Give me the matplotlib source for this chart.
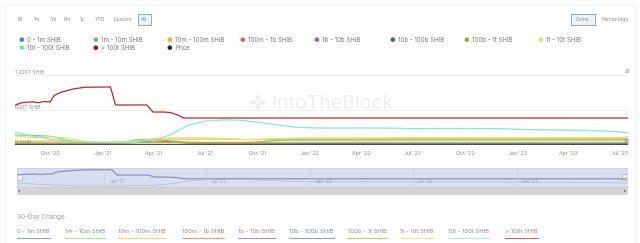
import pandas as pd
import matplotlib.pyplot as plt
import matplotlib.dates as mdates
from matplotlib.patches import Rectangle

plt.rcParams['font.family'] = ['Inter', 'DejaVu Sans']

# =============================================
# DATOS (T SHIB, mensual)
# =============================================
fechas = list(pd.date_range("2020-08-01", "2023-07-01", freq="MS")) + [pd.Timestamp("2023-07-15")]

# > 100t tiene escalones, se leen con fechas propias
fechas_100t = pd.to_datetime(["2020-08-01", "2020-08-10", "2020-08-20", "2020-09-01", "2020-09-10",
                              "2020-09-20", "2020-10-01", "2020-10-08", "2020-10-20", "2020-11-10",
                              "2020-12-01", "2021-01-15", "2021-01-24", "2021-03-20", "2021-03-31",
                              "2021-04-20", "2021-05-01", "2021-05-12", "2021-05-24", "2022-01-01",
                              "2022-07-01", "2023-01-01", "2023-07-15"])
mas_100t = [686, 720, 735, 740, 725, 745, 740, 850, 905, 960,
            990, 995, 686, 686, 565, 565, 555, 520, 463, 463,
            463, 463, 462]
t10_100t = [220, 150, 100, 60, 50, 50, 55, 70, 75, 180, 340, 410,
            430, 425, 390, 350, 310, 295, 290, 290, 292, 290, 288, 280,
            282, 285, 283, 282, 280, 270, 262, 258, 255, 250, 240, 225, 205]
t1_10t = [150, 130, 140, 120, 60, 45, 45, 50, 115, 120, 125, 125,
          115, 95, 90, 110, 120, 122, 122, 123, 123, 122, 125, 128,
          126, 125, 125, 124, 124, 125, 125, 126, 126, 127, 128, 130, 140]
m1_10m = [170, 165, 150, 80, 40, 30, 30, 90, 100, 70, 50, 45,
          45, 44, 44, 45, 45, 45, 45, 45, 45, 45, 45, 45,
          45, 45, 45, 45, 45, 45, 45, 45, 45, 45, 45, 45, 45]
m10_100m = [60, 60, 70, 60, 50, 40, 40, 60, 90, 100, 100, 100,
            100, 95, 95, 100, 105, 105, 105, 105, 105, 106, 108, 110,
            108, 108, 108, 107, 107, 107, 108, 108, 108, 109, 110, 110, 112]
b100_1t = [35, 35, 35, 35, 35, 35, 35, 40, 40, 40, 40, 40,
           40, 40, 50, 80, 85, 85, 85, 85, 85, 85, 85, 86,
           86, 86, 86, 86, 86, 86, 86, 86, 86, 86, 86, 86, 86]
m100_1b = [25, 25, 25, 25, 25, 25, 30, 40, 70, 55, 30, 25,
           25, 25, 22, 22, 22, 22, 22, 22, 22, 22, 22, 22,
           22, 22, 22, 22, 22, 22, 22, 22, 22, 22, 22, 22, 22]
b10_100b = [15] * 37
b1_10b = [5, 5, 5, 5, 5, 5, 5, 6, 6, 6, 6, 6,
          6, 6, 8, 14, 18, 20, 20, 20, 20, 20, 20, 20,
          20, 20, 20, 20, 20, 20, 20, 20, 20, 20, 20, 20, 20]
m0_1m = [2] * 37
precio = [0.0, 0.0, 0.0, 0.0, 0.0, 0.0, 0.0, 0.0, 0.00001, 0.00002, 0.000007, 0.000007,
          0.000008, 0.000008, 0.00006, 0.00004, 0.00003, 0.00003, 0.00003, 0.000025, 0.00002, 0.000012, 0.00001, 0.000012,
          0.000012, 0.000011, 0.00001, 0.000009, 0.000008, 0.000011, 0.000012, 0.000011, 0.00001, 0.000009, 0.000008, 0.000007, 0.000007]

etiquetas = ["0 - 1m SHIB", "1m - 10m SHIB", "10m - 100m SHIB", "100m - 1b SHIB",
             "1b - 10b SHIB", "10b - 100b SHIB", "100b - 1t SHIB", "1t - 10t SHIB",
             "10t - 100t SHIB", "> 100t SHIB", "Price"]
colores = ["#4a80c8", "#72b95a", "#f0b43c", "#e2674b", "#9b62c4", "#4d6075",
           "#9aa83a", "#f6d55c", "#7fe0c8", "#8b1c24", "#2b2b2b"]
series = [m0_1m, m1_10m, m10_100m, m100_1b, b1_10b, b10_100b, b100_1t,
          t1_10t, t10_100t]
colores_linea = ["#5a7fb0", "#8ccf7a", "#f2c14e", "#c9774a", "#8a6aa8", "#6b7a8c",
                 "#a8b04a", "#e8e070", "#8ee0e0", "#b02a2a"]


def fx(x):
    return x / 640


def fy(y):
    return 1 - y / 243


fig = plt.figure(figsize=(6.4, 2.43), dpi=100)
fig.patch.set_facecolor("white")

# =============================================
# BOTONES SUPERIORES
# =============================================
gris = "#8a8a8a"
for txt, x in zip(["7d", "1m", "3m", "6m", "1y", "YTD", "Custom", "All"],
                  [20, 37, 53, 67, 82, 100, 123, 144]):
    fig.text(fx(x), fy(19.5), txt, fontsize=3.6, color=gris, ha="center", va="center")
fig.patches.append(Rectangle((fx(138), fy(25)), fx(13), 11 / 243, transform=fig.transFigure,
                             fill=True, facecolor="#eef2fb", edgecolor="#7d9bd6", lw=0.6))
fig.patches.append(Rectangle((fx(571), fy(25)), fx(24), 11 / 243, transform=fig.transFigure,
                             fill=True, facecolor="#eef2fb", edgecolor="#7d9bd6", lw=0.6))
fig.text(fx(583), fy(19.5), "Coins", fontsize=3.6, color=gris, ha="center", va="center")
fig.text(fx(615), fy(19.5), "Percentage", fontsize=3.6, color=gris, ha="center", va="center")

# =============================================
# LEYENDA
# =============================================
pos_leyenda = [(21, 40), (95, 40), (169, 40), (242, 40), (316, 40), (392, 40),
               (466, 40), (540, 40), (21, 48), (95, 48), (169, 48)]
for (x, y), lab, col in zip(pos_leyenda, etiquetas, colores):
    fig.text(fx(x), fy(y), "\u25cf", fontsize=4.5, color=col, ha="center", va="center")
    fig.text(fx(x + 6), fy(y), lab, fontsize=4.4, color="#777777", ha="left", va="center")

# =============================================
# GRÁFICO PRINCIPAL
# =============================================
ax = fig.add_axes([fx(15), fy(145), fx(613), 70 / 243])
for s, c in zip(series, colores_linea):
    ax.plot(fechas, s, color=c, lw=0.9)
ax.plot(fechas_100t, mas_100t, color=colores_linea[9], lw=0.9)
ax.set_ylim(0, 1200)
ax.set_xlim(pd.Timestamp("2020-07-31"), pd.Timestamp("2023-07-15"))
for v in [0, 600, 1200]:
    ax.axhline(v, color="#ececec", lw=0.6, zorder=0)
for sp in ax.spines.values():
    sp.set_visible(False)
ax.set_yticks([])
ax.set_xticks([pd.Timestamp(d) for d in ["2020-10-01", "2021-01-01", "2021-04-01", "2021-07-01",
                                          "2021-10-01", "2022-01-01", "2022-04-01", "2022-07-01",
                                          "2022-10-01", "2023-01-01", "2023-04-01", "2023-07-01"]])
ax.set_xticklabels(["Oct '20", "Jan '21", "Apr '21", "Jul '21", "Oct '21", "Jan '22",
                    "Apr '22", "Jul '22", "Oct '22", "Jan '23", "Apr '23", "Jul '23"])
ax.tick_params(axis="x", length=0, labelsize=3.8, labelcolor=gris, pad=4)
ax.text(0.0, 1205, "1,200T SHIB", fontsize=3.6, color=gris, ha="left", va="bottom",
        transform=ax.get_yaxis_transform())
ax.text(0.0, 605, "600T SHIB", fontsize=3.6, color=gris, ha="left", va="bottom",
        transform=ax.get_yaxis_transform())
ax.text(0.0, 8, "0 SHIB", fontsize=3.6, color=gris, ha="left", va="bottom",
        transform=ax.get_yaxis_transform())
ax.text(0.5, 0.6, "\u2724 IntoTheBlock", fontsize=14, color="#eeeeee", ha="center",
        va="center", transform=ax.transAxes, zorder=0)

ax2 = ax.twinx()
ax2.plot(fechas, precio, color="#2b2b2b", lw=0.8)
ax2.set_ylim(0, 1)
ax2.set_yticks([])
for sp in ax2.spines.values():
    sp.set_visible(False)
ax.text(1.003, 1205, "$1", fontsize=3.6, color=gris, ha="right", va="bottom",
        transform=ax.get_yaxis_transform())
ax.text(1.003, 8, "$0", fontsize=3.6, color=gris, ha="right", va="bottom",
        transform=ax.get_yaxis_transform())

# =============================================
# NAVEGADOR
# =============================================
nav = fig.add_axes([fx(17), fy(187), fx(610), 19 / 243])
nav.set_facecolor("#d9dff1")
nav.plot(fechas_100t, mas_100t, color="#8088bf", lw=0.8)
nav.plot(fechas, t10_100t, color="#a9c9d8", lw=0.6)
nav.set_ylim(-20, 1100)
nav.set_xlim(pd.Timestamp("2020-07-31"), pd.Timestamp("2023-07-15"))
nav.set_xticks([])
nav.set_yticks([])
for sp in nav.spines.values():
    sp.set_color("#c8cfe6")
    sp.set_linewidth(0.5)
for d, lab in zip(["2021-01-01", "2021-07-01", "2022-01-01", "2022-07-01", "2023-01-01"],
                  ["Jan '21", "Jul '21", "Jan '22", "Jul '22", "Jan '23"]):
    nav.axvline(pd.Timestamp(d), color="#c5cbe0", lw=0.5)
    nav.text(pd.Timestamp(d) + pd.Timedelta(days=8), 180, lab, fontsize=3.4, color="#9aa0b5",
             ha="left", va="bottom")
nav.add_patch(Rectangle((0.0, 0.35), 0.008, 0.35, transform=nav.transAxes,
                        facecolor="#f2f2f2", edgecolor="#999999", lw=0.4))
nav.add_patch(Rectangle((0.992, 0.35), 0.008, 0.35, transform=nav.transAxes,
                        facecolor="#f2f2f2", edgecolor="#999999", lw=0.4))

# barra de desplazamiento
fig.patches.append(Rectangle((fx(17), fy(194)), fx(610), 7 / 243, transform=fig.transFigure,
                             facecolor="#d4d4d4", edgecolor="#c4c4c4", lw=0.4))
fig.text(fx(19), fy(190.5), "\u25c2", fontsize=3, color="#555555", ha="center", va="center")
fig.text(fx(625), fy(190.5), "\u25b8", fontsize=3, color="#555555", ha="center", va="center")

# =============================================
# CAMBIO 30 DÍAS
# =============================================
fig.text(fx(17), fy(217), "30-Day Change", fontsize=4.6, color="#9a9a9a", ha="left", va="center")
inicios = [17, 65, 118, 182, 238, 289, 348, 400, 448, 505]
renderer = fig.canvas.get_renderer()
for x, lab, col in zip(inicios, etiquetas[:10], colores_linea):
    t = fig.text(fx(x), fy(231), lab, fontsize=4.3, color="#8a8a8a", ha="left", va="center")
    bb = t.get_window_extent(renderer)
    fig.add_artist(plt.Line2D([fx(x), bb.x1 / 640], [fy(238), fy(238)],
                              transform=fig.transFigure, color=col, lw=0.8, alpha=0.7))

# borde de la tarjeta
fig.patches.append(Rectangle((fx(5), fy(243)), fx(630), 238 / 243, transform=fig.transFigure,
                             fill=False, edgecolor="#f0f0f0", lw=0.6))

plt.savefig("out.png", dpi=100)
